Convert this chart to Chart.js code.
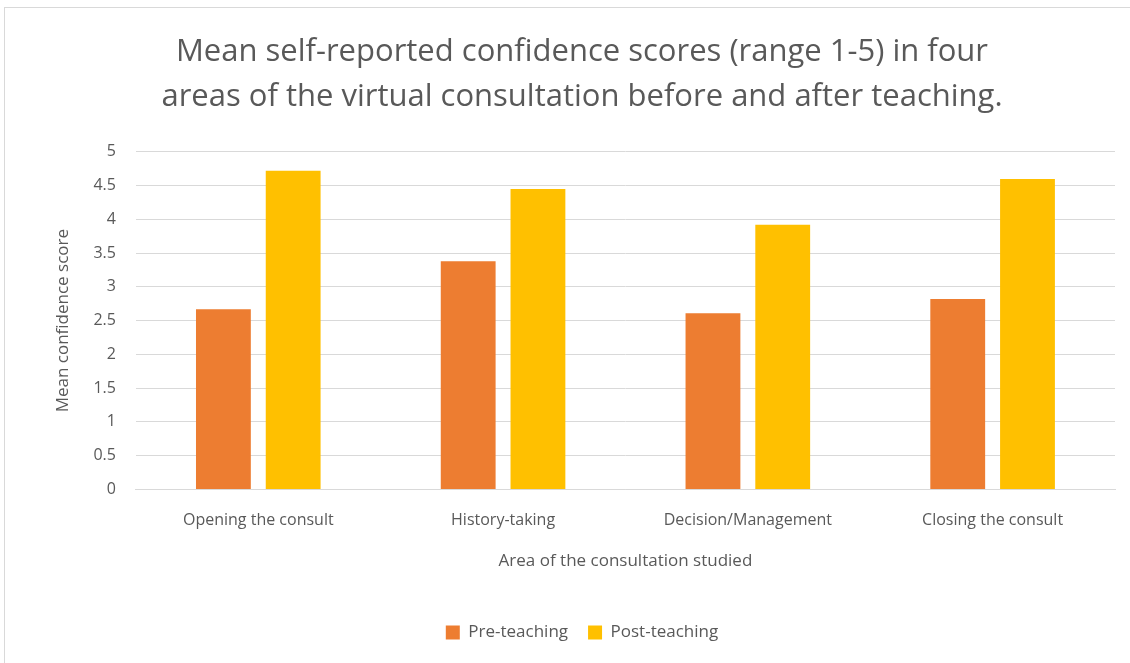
<!DOCTYPE html>
<html>
<head>
<meta charset="utf-8">
<script src="https://cdn.jsdelivr.net/npm/chart.js@4/dist/chart.umd.min.js"></script>
<style>
  html, body { margin: 0; padding: 0; background: #fff; }
  #wrap { position: absolute; left: 4px; top: 7px; width: 1140px; height: 670px; border: 1px solid #d9d9d9; }
  #c { position: absolute; left: 0; top: 0; }
</style>
</head>
<body>
<div id="wrap"></div>
<canvas id="c" width="1130" height="663"></canvas>
<script>
const categories = ['Opening the consult', 'History-taking', 'Decision/Management', 'Closing the consult']
const preTeaching = [2.67, 3.38, 2.61, 2.82]
const postTeaching = [4.72, 4.45, 3.92, 4.60]
const yTicks = [0, 0.5, 1, 1.5, 2, 2.5, 3, 3.5, 4, 4.5, 5]

const grey = '#595959'
const ctx = document.getElementById('c').getContext('2d')
const chart = new Chart(ctx, {
  type: 'bar',
  data: {
    labels: categories,
    datasets: [
      { label: 'Pre-teaching', data: preTeaching, backgroundColor: '#ed7d31' },
      { label: 'Post-teaching', data: postTeaching, backgroundColor: '#ffc000' }
    ]
  },
  options: {
    responsive: false,
    animation: false,
    layout: { padding: { left: 49, right: 15, top: 30, bottom: 12 } },
    datasets: { bar: { categoryPercentage: 0.57, barPercentage: 0.786 } },
    plugins: {
      title: {
        display: true,
        text: ['Mean self-reported confidence scores (range 1-5) in four', 'areas of the virtual consultation before and after teaching.'],
        color: grey,
        font: { family: 'Open Sans', size: 31, weight: 'normal', lineHeight: 1.45 },
        padding: { top: 0, bottom: 32 }
      },
      legend: {
        position: 'bottom',
        labels: { color: grey, font: { family: 'Open Sans', size: 17 }, boxWidth: 14, boxHeight: 14, padding: 20 }
      },
      tooltip: { enabled: false }
    },
    scales: {
      x: {
        grid: { display: false },
        border: { color: '#d9d9d9' },
        ticks: { color: grey, font: { family: 'Open Sans', size: 16 }, padding: 13 },
        title: { display: true, text: 'Area of the consultation studied', color: grey, font: { family: 'Open Sans', size: 17 }, padding: { top: 8, bottom: 33 } }
      },
      y: {
        min: 0,
        max: 5,
        afterBuildTicks: axis => { axis.ticks = yTicks.map(v => ({ value: v })) },
        grid: { color: '#d9d9d9', drawTicks: false },
        border: { display: false },
        ticks: { color: grey, font: { family: 'Open Sans', size: 16 }, padding: 20, callback: v => String(v) },
        title: { display: true, text: 'Mean confidence score', color: grey, font: { family: 'Open Sans', size: 17 }, padding: { bottom: 0 } }
      }
    }
  }
})
</script>
</body>
</html>
